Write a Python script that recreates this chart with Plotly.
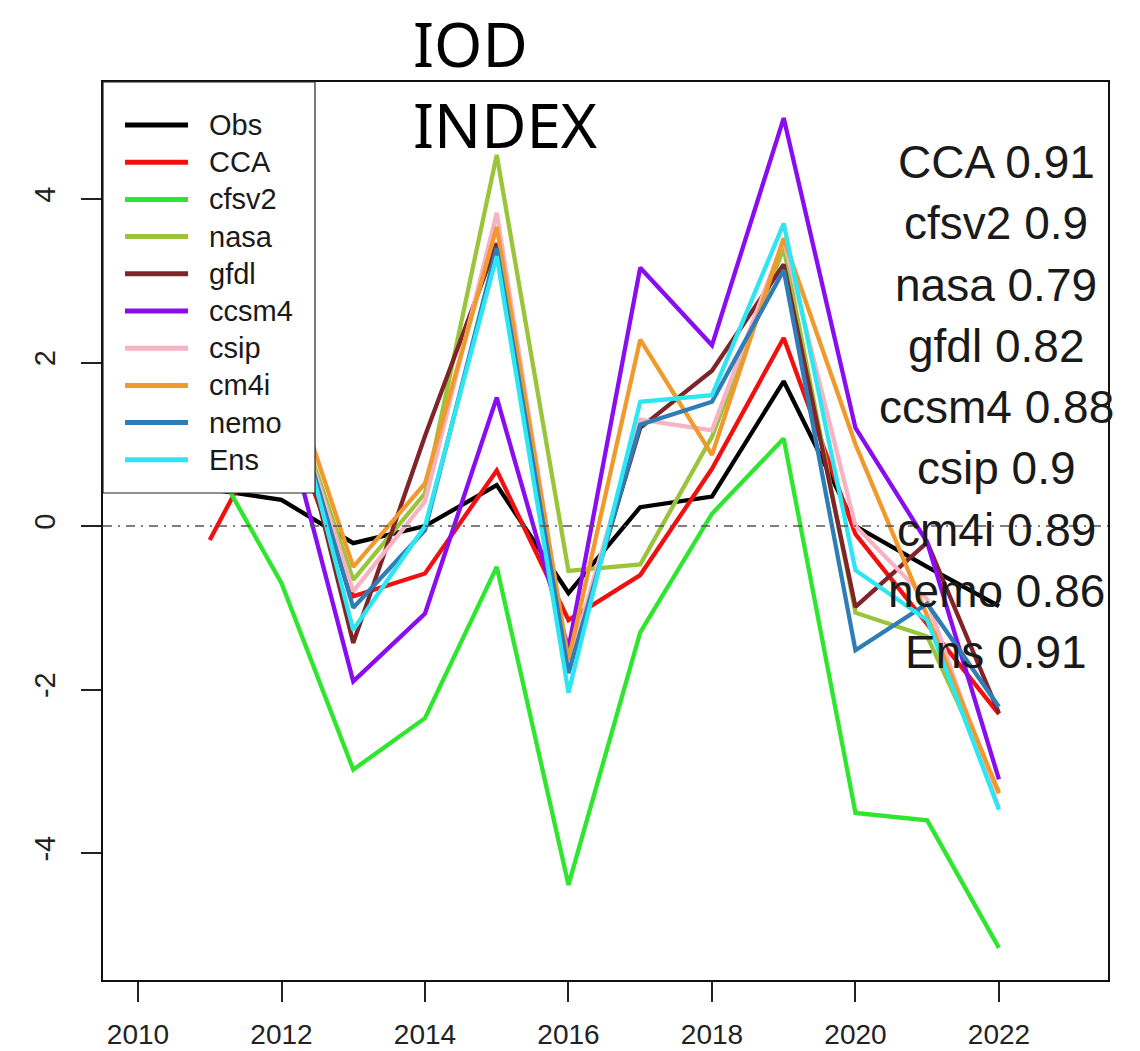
import plotly.graph_objects as go

# ---------------- data ----------------
years = [2011, 2012, 2013, 2014, 2015, 2016, 2017, 2018, 2019, 2020, 2021, 2022]

series_names = ["Obs", "CCA", "cfsv2", "nasa", "gfdl", "ccsm4", "csip", "cm4i", "nemo", "Ens"]

obs   = [0.45, 0.32, -0.21, 0.00, 0.50, -0.82, 0.23, 0.36, 1.77, 0.00, -0.50, -0.98]
cca   = [-0.17, 1.48, -0.86, -0.58, 0.68, -1.15, -0.60, 0.70, 2.30, -0.10, -1.20, -2.30]
cfsv2 = [0.86, -0.70, -2.98, -2.35, -0.50, -4.39, -1.30, 0.15, 1.07, -3.51, -3.60, -5.16]
nasa  = [None, 1.93, -0.66, 0.40, 4.54, -0.55, -0.47, 1.09, 3.40, -1.06, -1.35, -3.25]
gfdl  = [None, 2.14, -1.43, 1.10, 3.46, -1.75, 1.20, 1.90, 3.20, -0.99, -0.20, -2.29]
ccsm4 = [None, 1.46, -1.90, -1.07, 1.57, -1.50, 3.16, 2.21, 4.99, 1.20, -0.20, -3.10]
csip  = [None, 1.94, -0.80, 0.30, 3.83, -1.70, 1.30, 1.17, 3.50, 0.00, -0.90, -3.45]
cm4i  = [None, 2.14, -0.50, 0.52, 3.66, -1.64, 2.28, 0.87, 3.52, 1.00, -1.10, -3.27]
nemo  = [None, 2.00, -1.00, -0.05, 3.40, -1.80, 1.24, 1.52, 3.13, -1.52, -0.95, -2.21]
ens   = [None, 2.11, -1.27, 0.00, 3.30, -2.04, 1.52, 1.60, 3.70, -0.54, -1.15, -3.47]

series_values = [obs, cca, cfsv2, nasa, gfdl, ccsm4, csip, cm4i, nemo, ens]

series_colors = ["#000000", "#F01010", "#2EE62E", "#9AC43A", "#80242A",
                 "#8A0CF0", "#F7B3C2", "#F09A2E", "#2F7DB6", "#2EE6F2"]

corr_names = ["CCA", "cfsv2", "nasa", "gfdl", "ccsm4", "csip", "cm4i", "nemo", "Ens"]
corr_values = ["0.91", "0.9", "0.79", "0.82", "0.88", "0.9", "0.89", "0.86", "0.91"]

x_ticks = [2010, 2012, 2014, 2016, 2018, 2020, 2022]
y_ticks = [-4, -2, 0, 2, 4]

title_lines = ["IOD", "INDEX"]

# ---------------- figure ----------------
W, H = 1140, 1051
ML, MR, MT, MB = 103, 32, 82, 71
PW, PH = W - ML - MR, H - MT - MB

fig = go.Figure()

for name, vals, col in zip(series_names, series_values, series_colors):
    fig.add_trace(go.Scatter(
        x=years, y=vals, name=name, mode="lines",
        line=dict(color=col, width=4.3),
        connectgaps=False, showlegend=False, cliponaxis=True,
    ))

fig.add_hline(y=0, line=dict(color="#555555", width=1.6, dash="9px,6px,2px,6px"))

shapes = []
annotations = []

def px_x(px):
    return (px - ML) / PW

def px_y(py):
    return (H - MB - py) / PH

# legend box (drawn above the lines, like R's legend)
shapes.append(dict(type="rect", xref="paper", yref="paper",
                   x0=px_x(ML), x1=px_x(315), y0=px_y(493), y1=1,
                   fillcolor="white", line=dict(color="#222222", width=1.2),
                   layer="above"))
for i, (name, col) in enumerate(zip(series_names, series_colors)):
    yy = px_y(125 + 37.2 * i)
    shapes.append(dict(type="line", xref="paper", yref="paper",
                       x0=px_x(125), x1=px_x(188), y0=yy, y1=yy,
                       line=dict(color=col, width=5), layer="above"))
    annotations.append(dict(xref="paper", yref="paper", x=px_x(207), y=yy,
                            text=name, showarrow=False, xanchor="left", yanchor="middle",
                            font=dict(family="Liberation Sans, Arial", size=29, color="#1a1a1a")))

# correlation texts
for i, (n, v) in enumerate(zip(corr_names, corr_values)):
    annotations.append(dict(xref="paper", yref="paper", x=px_x(996), y=px_y(162 + 61.25 * i),
                            text=f"{n} {v}", showarrow=False, xanchor="center", yanchor="middle",
                            font=dict(family="Liberation Sans, Arial", size=46, color="#1a1a1a")))

# title
for i, t in enumerate(title_lines):
    annotations.append(dict(xref="paper", yref="paper", x=px_x(411), y=px_y(43 + 81 * i),
                            text=t, showarrow=False, xanchor="left", yanchor="middle",
                            font=dict(family="Noto Sans, Open Sans", size=62, color="#000000")))

fig.update_layout(
    width=W, height=H,
    margin=dict(l=ML, r=MR, t=MT, b=MB, pad=0, autoexpand=False),
    paper_bgcolor="white", plot_bgcolor="white",
    showlegend=False,
    shapes=list(fig.layout.shapes) + shapes,
    annotations=annotations,
    font=dict(family="Liberation Sans, Arial", color="#222222"),
)

fig.update_xaxes(
    range=[2009.512, 2023.52], tickmode="array", tickvals=x_ticks,
    ticktext=[str(t) for t in x_ticks],
    showgrid=False, zeroline=False, automargin=False,
    showline=True, mirror=True, linecolor="#111111", linewidth=2,
    ticks="outside", ticklen=20, tickwidth=1.5, tickcolor="#222222",
    tickfont=dict(size=28, family="Liberation Sans, Arial", color="#222222"),
    ticklabelstandoff=8,
)
fig.update_yaxes(
    range=[-5.553, 5.431], tickmode="array", tickvals=y_ticks,
    ticktext=[str(t) for t in y_ticks],
    showgrid=False, zeroline=False, automargin=False,
    showline=True, mirror=True, linecolor="#111111", linewidth=2,
    ticks="outside", ticklen=20, tickwidth=1.5, tickcolor="#222222",
    tickangle=-90,
    tickfont=dict(size=29, family="Liberation Sans, Arial", color="#222222"),
    ticklabelstandoff=14,
)

fig.write_html("out.html")
